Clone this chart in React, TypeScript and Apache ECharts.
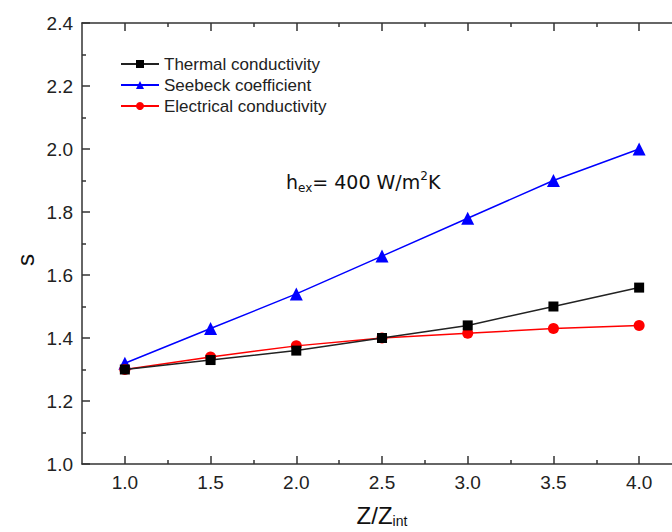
import React, { useEffect, useRef } from "react";
import * as echarts from "echarts";

const xValues = [1.0, 1.5, 2.0, 2.5, 3.0, 3.5, 4.0];
const thermal = [1.3, 1.33, 1.36, 1.4, 1.44, 1.5, 1.56];
const seebeck = [1.32, 1.43, 1.54, 1.66, 1.78, 1.9, 2.0];
const electrical = [1.3, 1.34, 1.375, 1.4, 1.415, 1.43, 1.44];
const xMajorTicks = [1.0, 1.5, 2.0, 2.5, 3.0, 3.5, 4.0];
const xMinorTicks = [1.25, 1.75, 2.25, 2.75, 3.25, 3.75];
const seriesNames = ["Thermal conductivity", "Seebeck coefficient", "Electrical conductivity"];

const FONT = "Liberation Sans";
const AX = "#333";

export default function App() {
  const ref = useRef<HTMLDivElement>(null);
  useEffect(() => {
    const chart = echarts.init(ref.current!, null, { renderer: "svg" });
    const pairs = (ys: number[]) => xValues.map((x, i) => [x, ys[i]]);
    const baseX = {
      type: "value",
      min: 0.75,
      max: 4.25,
      interval: 0.25,
      splitLine: { show: false },
      gridIndex: 0,
    };
    chart.setOption({
      animation: false,
      backgroundColor: "#fff",
      grid: { left: 82, right: -10, top: 23, bottom: 68, containLabel: false, outerBoundsMode: "none" },
      legend: {
        orient: "vertical",
        left: 120,
        top: 55,
        padding: 0,
        itemWidth: 38,
        itemHeight: 10,
        itemGap: 3,
        data: seriesNames,
        textStyle: { fontFamily: FONT, fontSize: 17, color: "#222", lineHeight: 18 },
      },
      xAxis: [
        {
          ...baseX,
          position: "bottom",
          axisLine: { show: true, lineStyle: { color: AX, width: 1.5 } },
          axisTick: { show: true, inside: true, length: 8, customValues: xMajorTicks, lineStyle: { color: AX, width: 1.5 } },
          axisLabel: {
            show: true,
            customValues: xMajorTicks,
            formatter: (v: number) => v.toFixed(1),
            fontFamily: FONT,
            fontSize: 19,
            color: "#222",
            margin: 9,
          },
          name: "{a|Z/Z}{b|int}",
          nameLocation: "middle",
          nameGap: 38,
          nameTextStyle: {
            rich: {
              a: { fontFamily: FONT, fontSize: 24, color: "#111", lineHeight: 26 },
              b: { fontFamily: FONT, fontSize: 14, color: "#111", lineHeight: 14, verticalAlign: "bottom" },
            },
          },
        },
        {
          ...baseX,
          position: "bottom",
          axisLine: { show: false },
          axisTick: { show: true, inside: true, length: 4, customValues: xMinorTicks, lineStyle: { color: AX, width: 1.5 } },
          axisLabel: { show: false },
        },
        {
          ...baseX,
          position: "top",
          axisLine: { show: true, lineStyle: { color: AX, width: 1.5 } },
          axisTick: { show: true, inside: true, length: 8, customValues: xMajorTicks, lineStyle: { color: AX, width: 1.5 } },
          axisLabel: { show: false },
        },
        {
          ...baseX,
          position: "top",
          axisLine: { show: false },
          axisTick: { show: true, inside: true, length: 4, customValues: xMinorTicks, lineStyle: { color: AX, width: 1.5 } },
          axisLabel: { show: false },
        },
      ],
      yAxis: [
        {
          type: "value",
          min: 1.0,
          max: 2.4,
          interval: 0.2,
          position: "left",
          splitLine: { show: false },
          axisLine: { show: true, lineStyle: { color: AX, width: 1.5 } },
          axisTick: { show: true, inside: true, length: 8, lineStyle: { color: AX, width: 1.5 } },
          minorTick: { show: true, splitNumber: 2, length: 4, lineStyle: { color: AX, width: 1.5 } },
          axisLabel: {
            formatter: (v: number) => v.toFixed(1),
            fontFamily: FONT,
            fontSize: 19,
            color: "#222",
            margin: 9,
          },
        },
      ],
      graphic: [
        {
          type: "text",
          x: 25,
          y: 260,
          rotation: Math.PI / 2,
          style: { text: "s", font: `24px "${FONT}"`, fill: "#111", align: "center", verticalAlign: "middle" },
        },
        {
          type: "text",
          x: 286,
          y: 182,
          style: {
            text: "{a|h}{b|ex}{a|= 400 W/m}{c|2}{a|K}",
            align: "left",
            verticalAlign: "middle",
            rich: {
              a: { fontFamily: "DejaVu Sans", fontSize: 19, fill: "#111", lineHeight: 24 },
              b: { fontFamily: "DejaVu Sans", fontSize: 12, fill: "#111", lineHeight: 12, verticalAlign: "bottom" },
              c: { fontFamily: "DejaVu Sans", fontSize: 12, fill: "#111", lineHeight: 12, verticalAlign: "top" },
            },
          },
        },
      ],
      series: [
        {
          name: seriesNames[0],
          type: "line",
          data: pairs(thermal),
          symbol: "rect",
          symbolSize: 10,
          itemStyle: { color: "#000" },
          lineStyle: { color: "#222", width: 1.5 },
          z: 4,
        },
        {
          name: seriesNames[1],
          type: "line",
          data: pairs(seebeck),
          symbol: "triangle",
          symbolSize: 13,
          itemStyle: { color: "#0000ff" },
          lineStyle: { color: "#0000ff", width: 1.5 },
          z: 2,
        },
        {
          name: seriesNames[2],
          type: "line",
          data: pairs(electrical),
          symbol: "circle",
          symbolSize: 11,
          itemStyle: { color: "#ff0000" },
          lineStyle: { color: "#ff0000", width: 1.5 },
          z: 3,
        },
      ],
    });
    return () => chart.dispose();
  }, []);
  return <div ref={ref} style={{ position: "fixed", left: 0, top: 0, width: 672, height: 532 }} />;
}
